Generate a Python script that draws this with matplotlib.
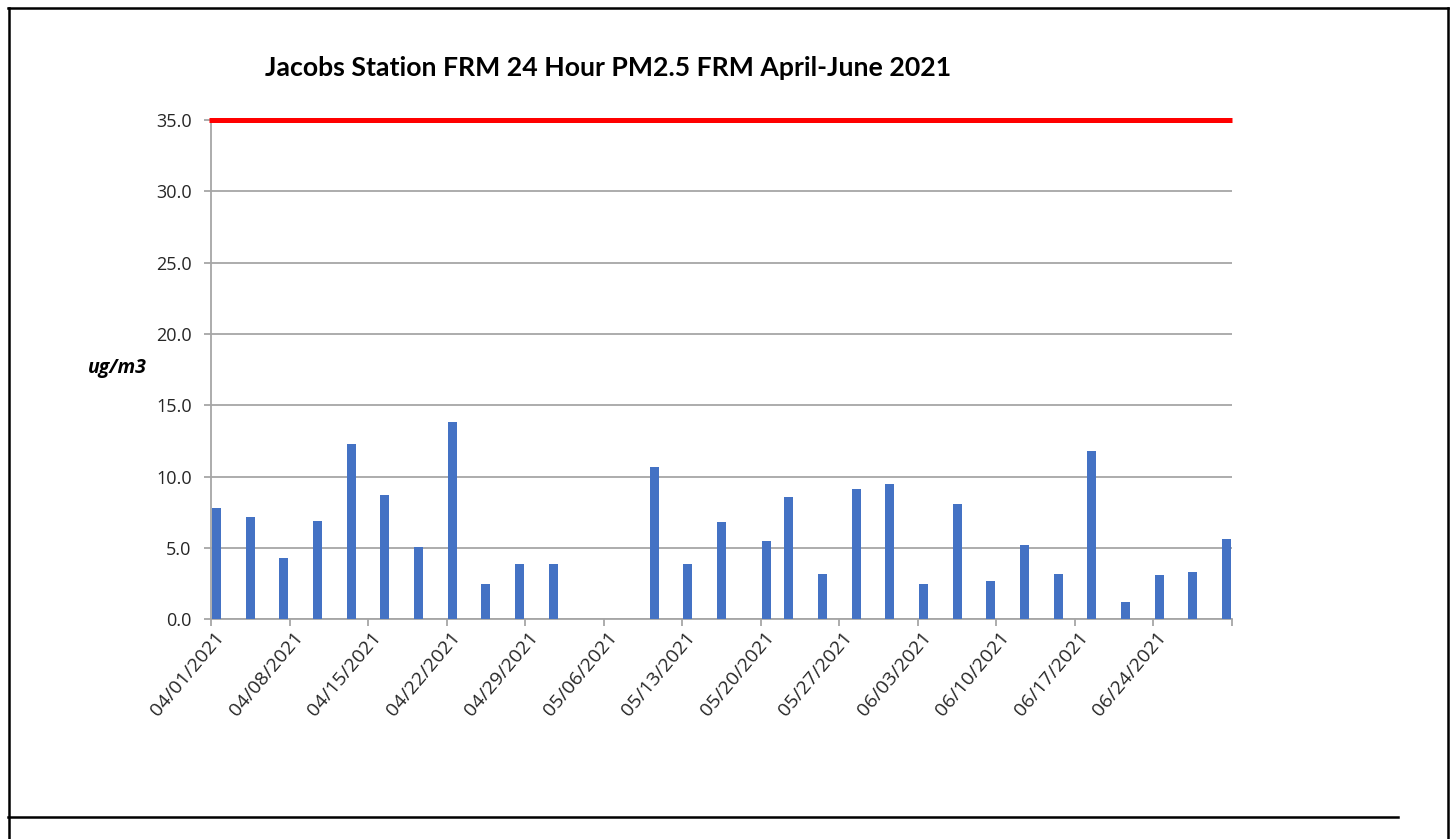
import matplotlib
matplotlib.use("Agg")
import matplotlib.pyplot as plt
import matplotlib.dates as mdates
import matplotlib.transforms as mtransforms
from matplotlib.lines import Line2D
import numpy as np
import datetime as dt

# ---- data ----
sample_dates = ["2021-04-01", "2021-04-04", "2021-04-07", "2021-04-10", "2021-04-13",
                "2021-04-16", "2021-04-19", "2021-04-22", "2021-04-25", "2021-04-28",
                "2021-05-01", "2021-05-10", "2021-05-13", "2021-05-16", "2021-05-20",
                "2021-05-22", "2021-05-25", "2021-05-28", "2021-05-31", "2021-06-03",
                "2021-06-06", "2021-06-09", "2021-06-12", "2021-06-15", "2021-06-18",
                "2021-06-21", "2021-06-24", "2021-06-27", "2021-06-30"]
pm25 = [7.8, 7.2, 4.3, 6.9, 12.3, 8.7, 5.1, 13.8, 2.5, 3.9,
        3.9, 10.7, 3.9, 6.8, 5.5, 8.6, 3.2, 9.1, 9.5, 2.5,
        8.1, 2.7, 5.2, 3.2, 11.8, 1.2, 3.1, 3.3, 5.6]
standard = 35.0
tick_labels = ["04/01/2021", "04/08/2021", "04/15/2021", "04/22/2021", "04/29/2021",
               "05/06/2021", "05/13/2021", "05/20/2021", "05/27/2021", "06/03/2021",
               "06/10/2021", "06/17/2021", "06/24/2021"]
title = "Jacobs Station FRM 24 Hour PM2.5 FRM April-June 2021"
ylabel = "ug/m3"

W, H = 1454, 839
fig = plt.figure(figsize=(W / 100, H / 100), dpi=100)
fig.patch.set_facecolor("white")

def fx(px):
    return px / W

def fy(py):
    return 1 - py / H

ax = fig.add_axes([fx(211), fy(619.3), fx(1232) - fx(211), fy(120) - fy(619.3)])

dates = [dt.datetime.strptime(d, "%Y-%m-%d") + dt.timedelta(hours=12) for d in sample_dates]
xd = mdates.date2num(dates)
ax.bar(xd, pm25, width=0.8, color="#4472C4", zorder=3)

x0 = mdates.date2num(dt.datetime(2021, 4, 1))
x1 = mdates.date2num(dt.datetime(2021, 7, 1))
ax.set_xlim(x0, x1)
ax.set_ylim(0, 35)

# standard line
ax.plot([x0 - 0.2, x1], [standard, standard], color="#FF0000", lw=3.6,
        solid_capstyle="butt", clip_on=False, zorder=4)

# y axis
yt = np.arange(0, 35.1, 5)
ax.set_yticks(yt)
ax.set_yticklabels([f"{v:.1f}" for v in yt])
ax.yaxis.grid(True, color="#A6A6A6", lw=1.3, zorder=0)

# x ticks
tick_pos = [mdates.date2num(dt.datetime.strptime(t, "%m/%d/%Y")) for t in tick_labels]
ax.set_xticks(tick_pos + [x1])
ax.set_xticklabels(tick_labels + [""], rotation=50, ha="right", va="center",
                   rotation_mode="anchor")

for s in ["top", "right"]:
    ax.spines[s].set_visible(False)
for s in ["left", "bottom"]:
    ax.spines[s].set_color("#A6A6A6")
    ax.spines[s].set_linewidth(1.3)

ax.tick_params(axis="both", colors="#A6A6A6", width=1.3, length=5, labelcolor="#262626")
ax.tick_params(axis="y", pad=9, labelsize=13)
ax.tick_params(axis="x", pad=6, labelsize=14)
offset = mtransforms.ScaledTranslation(10 / 100, 0, fig.dpi_scale_trans)
for lab in ax.get_xticklabels():
    lab.set_fontfamily("Open Sans")
    lab.set_transform(lab.get_transform() + offset)
for lab in ax.get_yticklabels():
    lab.set_fontfamily("Open Sans")

fig.text(fx(265), fy(68), title, fontsize=19.2, fontweight="bold", family="Lato",
         ha="left", va="center", color="black")
fig.text(fx(88), fy(368), ylabel, fontsize=14, fontweight="bold", fontstyle="italic",
         family="Open Sans", ha="left", va="center", color="black")

# frame lines
lw = 1.8
fig.add_artist(Line2D([fx(8.5), fx(8.5)], [fy(7.5), fy(839)], color="black", lw=lw))
fig.add_artist(Line2D([fx(8), fx(1447.5)], [fy(7.5), fy(7.5)], color="black", lw=lw))
fig.add_artist(Line2D([fx(1447.5), fx(1447.5)], [fy(7.5), fy(839)], color="black", lw=lw))
fig.add_artist(Line2D([fx(8), fx(1398)], [fy(817), fy(817)], color="black", lw=lw))

fig.savefig("out.png", dpi=100)
